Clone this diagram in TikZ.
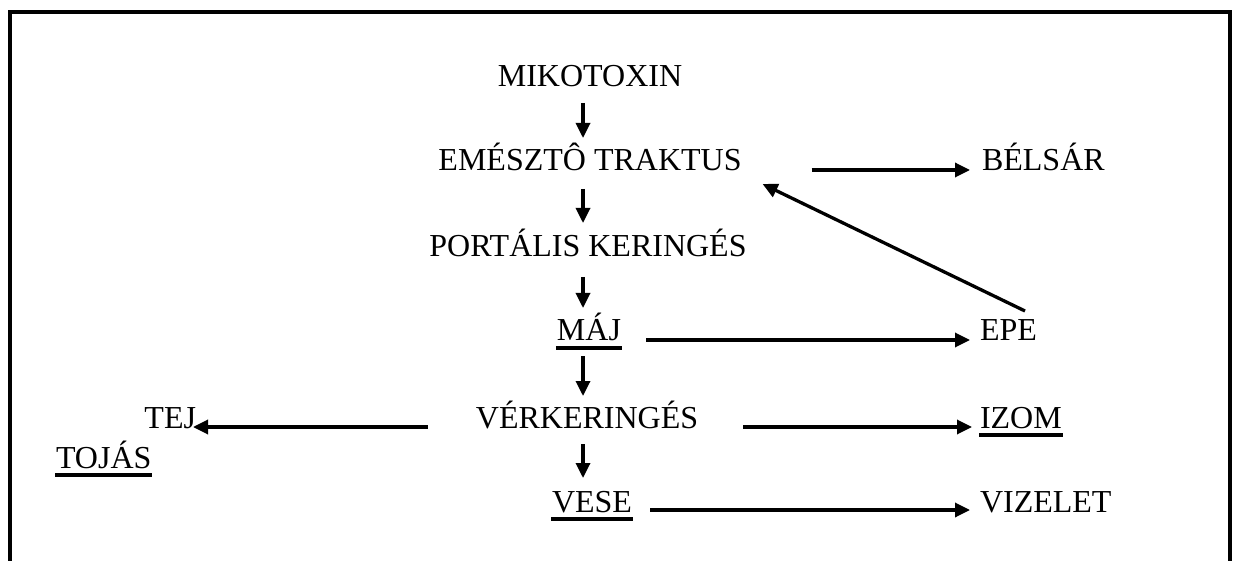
\documentclass[tikz,border=0pt]{standalone}
\usepackage{fontspec}
\setmainfont{Liberation Serif}
\usetikzlibrary{arrows.meta,calc}
\begin{document}
\begin{tikzpicture}[x=1pt,y=-1pt,
  lbl/.style={inner sep=0pt,outer sep=0pt,font=\fontsize{32}{36}\selectfont},
  arr/.style={line width=3.3pt,-{Triangle[length=15pt,width=14pt]}},
  frame/.style={line width=4pt,line join=miter},
  uline/.style={line width=3.5pt}]
\useasboundingbox (0,0) rectangle (1237,561);
\draw[frame] (10,561) -- (10,12) -- (1230,12) -- (1230,561);
\coordinate (vx) at (583,0);
% central column
\node[lbl,anchor=base] (mik) at (590,87) {MIKOTOXIN};
\node[lbl,anchor=base] (emt) at (590,171) {EMÉSZTÔ TRAKTUS};
\node[lbl,anchor=base] (por) at (588,257) {PORTÁLIS KERINGÉS};
\node[lbl,anchor=base] (maj) at (589,341) {MÁJ};
\node[lbl,anchor=base] (ver) at (587,428) {VÉRKERINGÉS};
\node[lbl,anchor=base] (ves) at (592,512) {VESE};
% right column
\node[lbl,anchor=base west] (bel) at (982,171) {BÉLSÁR};
\node[lbl,anchor=base west] (epe) at (980,341) {EPE};
\node[lbl,anchor=base west] (izo) at (980,428) {IZOM};
\node[lbl,anchor=base west] (viz) at (980,512) {VIZELET};
% left column
\node[lbl,anchor=base east] (tej) at (196,428) {TEJ};
\node[lbl,anchor=base west] (toj) at (56,468) {TOJÁS};
% underlines
\foreach \n in {maj,izo,ves,toj}
  \draw[uline] ([xshift=-1pt,yshift=-7pt]\n.base west) -- ([xshift=1pt,yshift=-7pt]\n.base east);
% vertical arrows
\draw[arr] ([yshift=-16pt]mik.base -| vx) -- ([yshift=33pt]emt.base -| vx);
\draw[arr] ([yshift=-18pt]emt.base -| vx) -- ([yshift=34pt]por.base -| vx);
\draw[arr] ([yshift=-20pt]por.base -| vx) -- ([yshift=33pt]maj.base -| vx);
\draw[arr] ([yshift=-15pt]maj.base -| vx) -- ([yshift=32pt]ver.base -| vx);
\draw[arr] ([yshift=-16pt]ver.base -| vx) -- ([yshift=34pt]ves.base -| vx);
% horizontal arrows
\draw[arr] ([xshift=70pt,yshift=1pt]emt.base east) -- ([xshift=-12pt,yshift=1pt]bel.base west);
\draw[arr] ([xshift=25pt,yshift=1pt]maj.base east) -- ([xshift=-10pt,yshift=1pt]epe.base west);
\draw[arr] ([xshift=45pt,yshift=1pt]ver.base east) -- ([xshift=-8pt,yshift=1pt]izo.base west);
\draw[arr] ([xshift=-48pt,yshift=1pt]ver.base west) -- ([xshift=-3pt,yshift=1pt]tej.base east);
\draw[arr] ([xshift=18pt,yshift=2pt]ves.base east) -- ([xshift=-10pt,yshift=2pt]viz.base west);
% diagonal arrow
\draw[arr] ([xshift=45pt,yshift=30pt]epe.base west) -- ([xshift=21pt,yshift=-13pt]emt.base east);
\end{tikzpicture}
\end{document}
